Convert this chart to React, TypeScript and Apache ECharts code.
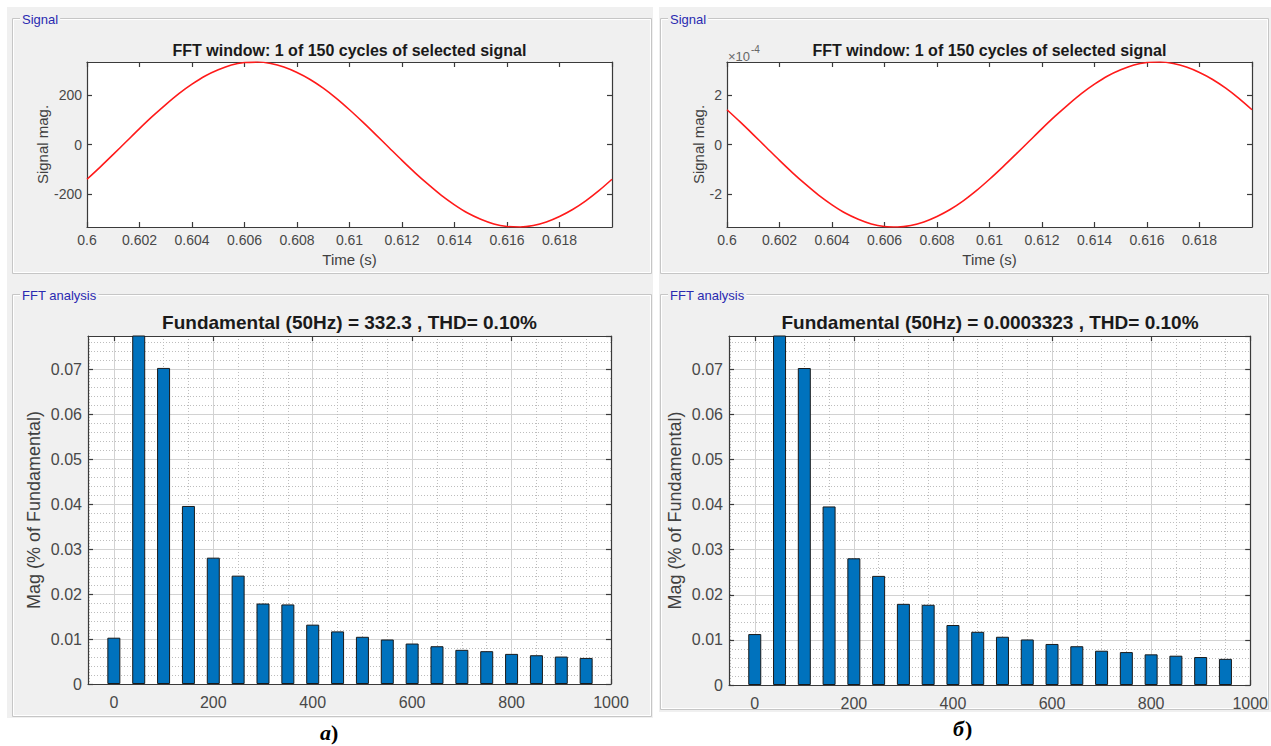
import React, { useEffect, useRef } from "react";
import * as echarts from "echarts";

// ---------- data ----------
// time samples (s), every 0.5 ms
const timeS = [
  0.6, 0.6005, 0.601, 0.6015, 0.602, 0.6025, 0.603, 0.6035, 0.604, 0.6045,
  0.605, 0.6055, 0.606, 0.6065, 0.607, 0.6075, 0.608, 0.6085, 0.609, 0.6095,
  0.61, 0.6105, 0.611, 0.6115, 0.612, 0.6125, 0.613, 0.6135, 0.614, 0.6145,
  0.615, 0.6155, 0.616, 0.6165, 0.617, 0.6175, 0.618, 0.6185, 0.619, 0.6195,
  0.62,
];
// panel a) signal magnitude
const signalA = [
  -140, -91, -40, 12, 64, 114, 161, 205, 243, 276, 301, 320, 330, 332, 326,
  312, 290, 262, 227, 186, 140, 91, 40, -12, -64, -114, -161, -205, -243,
  -276, -301, -320, -330, -332, -326, -312, -290, -262, -227, -186, -140,
];
// panel б) signal magnitude, in units of 1e-4
const signalB = [
  1.4, 0.91, 0.4, -0.12, -0.64, -1.14, -1.61, -2.05, -2.43, -2.76, -3.01,
  -3.2, -3.3, -3.32, -3.26, -3.12, -2.9, -2.62, -2.27, -1.86, -1.4, -0.91,
  -0.4, 0.12, 0.64, 1.14, 1.61, 2.05, 2.43, 2.76, 3.01, 3.2, 3.3, 3.32, 3.26,
  3.12, 2.9, 2.62, 2.27, 1.86, 1.4,
];
// harmonic frequencies (Hz)
const harmonicsHz = [
  0, 50, 100, 150, 200, 250, 300, 350, 400, 450, 500, 550, 600, 650, 700, 750,
  800, 850, 900, 950,
];
// Mag (% of Fundamental), 50 Hz = fundamental (100 %)
const fftA = [
  0.0103, 100, 0.0703, 0.0396, 0.0281, 0.0241, 0.0179, 0.0177, 0.0132, 0.0117,
  0.0105, 0.0099, 0.009, 0.0084, 0.0076, 0.0073, 0.0067, 0.0064, 0.0061, 0.0058,
];
const fftB = [
  0.0113, 100, 0.0703, 0.0396, 0.0281, 0.0242, 0.018, 0.0178, 0.0133, 0.0118,
  0.0107, 0.0101, 0.0091, 0.0086, 0.0076, 0.0073, 0.0068, 0.0065, 0.0062, 0.0058,
];
const fftXTicks = [0, 200, 400, 600, 800, 1000];
const signalATicks = [-200, 0, 200];
const signalBTicks = [-2, 0, 2];
const signalAMax = 332.3;
const signalBMax = 3.323;
const fftYMax = 0.0774;

const titleSignal = "FFT window: 1 of 150 cycles of selected signal";
const titleFftA = "Fundamental (50Hz) = 332.3 , THD= 0.10%";
const titleFftB = "Fundamental (50Hz) = 0.0003323 , THD= 0.10%";

// ---------- styles ----------
const FONT = "'Liberation Sans', Arial, Helvetica, sans-serif";
const SERIF = "'Liberation Serif', 'Times New Roman', serif";
const AXIS_COLOR = "#3a3a3a";
const LABEL_COLOR = "#484848";
const PANEL = "#f0f0f0";

const lineStyle = { color: AXIS_COLOR, width: 1.2 };

function signalAxes(gridIndex: number, yMax: number, yTicks: number[], nameGap: number) {
  const xBottom = {
    type: "value",
    gridIndex,
    position: "bottom",
    min: 0.6,
    max: 0.62,
    interval: 0.002,
    axisLine: { show: true, onZero: false, lineStyle },
    axisTick: { show: true, inside: true, length: 5, lineStyle },
    axisLabel: {
      show: true,
      margin: 6,
      color: LABEL_COLOR,
      fontSize: 14,
      fontFamily: FONT,
      showMaxLabel: false,
    },
    splitLine: { show: false },
    name: "Time (s)",
    nameLocation: "middle",
    nameGap: 25,
    nameTextStyle: { fontSize: 15, color: "#404040", fontFamily: FONT },
  };
  const xTop = {
    type: "value",
    gridIndex,
    position: "top",
    min: 0.6,
    max: 0.62,
    interval: 0.002,
    axisLine: { show: true, onZero: false, lineStyle },
    axisTick: { show: true, inside: true, length: 5, lineStyle },
    axisLabel: { show: false },
    splitLine: { show: false },
  };
  const yLeft = {
    type: "value",
    gridIndex,
    position: "left",
    min: -yMax,
    max: yMax,
    axisLine: { show: true, onZero: false, lineStyle },
    axisTick: { show: true, inside: true, length: 5, lineStyle, customValues: yTicks },
    axisLabel: {
      show: true,
      margin: 5,
      color: LABEL_COLOR,
      fontSize: 14,
      fontFamily: FONT,
      customValues: yTicks,
    },
    splitLine: { show: false },
    name: "Signal mag.",
    nameLocation: "middle",
    nameGap,
    nameTextStyle: { fontSize: 15, color: "#404040", fontFamily: FONT },
  };
  const yRight = {
    type: "value",
    gridIndex,
    position: "right",
    min: -yMax,
    max: yMax,
    axisLine: { show: true, onZero: false, lineStyle },
    axisTick: { show: true, inside: true, length: 5, lineStyle, customValues: yTicks },
    axisLabel: { show: false },
    splitLine: { show: false },
  };
  return { x: [xBottom, xTop], y: [yLeft, yRight] };
}

function fftAxes(gridIndex: number) {
  const xBottom = {
    type: "value",
    gridIndex,
    position: "bottom",
    min: -52,
    max: 1000,
    axisLine: { show: true, onZero: false, lineStyle },
    axisTick: { show: true, inside: true, length: 5, lineStyle, customValues: fftXTicks },
    axisLabel: {
      show: true,
      margin: 10,
      color: LABEL_COLOR,
      fontSize: 16,
      fontFamily: FONT,
      customValues: fftXTicks,
      formatter: (v: number) => (Math.abs(v % 200) < 1e-6 ? String(v) : ""),
    },
    splitLine: { show: true, lineStyle: { color: "#d2d2d2", width: 1 } },
    minorTick: { show: false, splitNumber: 4 },
    minorSplitLine: {
      show: true,
      lineStyle: { color: "#bdbdbd", width: 1, type: [1, 2] },
    },
  };
  const xTop = {
    type: "value",
    gridIndex,
    position: "top",
    min: -52,
    max: 1000,
    axisLine: { show: true, onZero: false, lineStyle },
    axisTick: { show: true, inside: true, length: 5, lineStyle, customValues: fftXTicks },
    axisLabel: { show: false },
    splitLine: { show: false },
  };
  const yLeft = {
    type: "value",
    gridIndex,
    position: "left",
    min: 0,
    max: fftYMax,
    interval: 0.01,
    axisLine: { show: true, onZero: false, lineStyle },
    axisTick: { show: true, inside: true, length: 5, lineStyle },
    axisLabel: {
      show: true,
      margin: 6,
      color: LABEL_COLOR,
      fontSize: 16,
      fontFamily: FONT,
      showMaxLabel: false,
    },
    splitLine: { show: true, lineStyle: { color: "#d2d2d2", width: 1 } },
    minorTick: { show: false, splitNumber: 5 },
    minorSplitLine: {
      show: true,
      lineStyle: { color: "#bdbdbd", width: 1, type: [1, 2] },
    },
    name: "Mag (% of Fundamental)",
    nameLocation: "middle",
    nameGap: 45,
    nameTextStyle: { fontSize: 18, color: "#404040", fontFamily: FONT },
  };
  const yRight = {
    type: "value",
    gridIndex,
    position: "right",
    min: 0,
    max: fftYMax,
    interval: 0.01,
    axisLine: { show: true, onZero: false, lineStyle },
    axisTick: { show: true, inside: true, length: 5, lineStyle },
    axisLabel: { show: false },
    splitLine: { show: false },
  };
  return { x: [xBottom, xTop], y: [yLeft, yRight] };
}

function bgRect(x: number, y: number, w: number, h: number, fill: string) {
  return { type: "rect", silent: true, z: -10, shape: { x, y, width: w, height: h }, style: { fill } };
}

function groupBox(x: number, y: number, w: number, h: number, label: string) {
  return [
    {
      type: "rect",
      silent: true,
      z: -9,
      shape: { x: x + 0.5, y: y + 0.5, width: w, height: h },
      style: { fill: "none", stroke: "#c6c6c6", lineWidth: 1 },
    },
    {
      type: "rect",
      silent: true,
      z: -9,
      shape: { x: x + 1.5, y: y + 1.5, width: w - 2, height: h - 2 },
      style: { fill: "none", stroke: "#ffffff", lineWidth: 1 },
    },
    {
      type: "text",
      silent: true,
      z: -8,
      x: x + 8,
      y: y + 1,
      style: {
        text: label,
        fill: "#2a2ab0",
        fontSize: 13,
        fontFamily: FONT,
        verticalAlign: "middle",
        align: "left",
        backgroundColor: PANEL,
        padding: [0, 2, 0, 2],
      },
    },
  ];
}

function titleText(x: number, y: number, text: string, size: number) {
  return {
    type: "text",
    silent: true,
    z: 10,
    x,
    y,
    style: {
      text,
      fill: "#1a1a1a",
      fontSize: size,
      fontWeight: "bold",
      fontFamily: FONT,
      align: "center",
      verticalAlign: "middle",
    },
  };
}

function plainText(x: number, y: number, text: string, size: number, extra: any = {}) {
  return {
    type: "text",
    silent: true,
    z: 10,
    x,
    y,
    style: {
      text,
      fill: "#000",
      fontSize: size,
      fontFamily: FONT,
      align: "left",
      verticalAlign: "middle",
      ...extra,
    },
  };
}

export default function App() {
  const ref = useRef<HTMLDivElement>(null);

  useEffect(() => {
    if (!ref.current) return;
    const chart = echarts.init(ref.current, undefined, { renderer: "svg" });

    const a = signalAxes(0, signalAMax, signalATicks, 36);
    const b = signalAxes(1, signalBMax, signalBTicks, 21);
    const c = fftAxes(2);
    const d = fftAxes(3);

    const grids = [
      { left: 87, top: 62, width: 525, height: 165 },
      { left: 727, top: 62, width: 525, height: 165 },
      { left: 88, top: 336, width: 523, height: 348 },
      { left: 729, top: 336, width: 522, height: 349 },
    ].map((g) => ({ ...g, show: true, backgroundColor: "#ffffff", borderWidth: 0, containLabel: false }));

    const graphic: any[] = [
      bgRect(7, 7, 646, 711, PANEL),
      bgRect(659, 7, 612, 705, PANEL),
      ...groupBox(12, 18, 639, 255, "Signal"),
      ...groupBox(12, 294, 639, 422, "FFT analysis"),
      ...groupBox(660, 18, 608, 255, "Signal"),
      ...groupBox(660, 294, 608, 415, "FFT analysis"),
      titleText(349.5, 50, titleSignal, 16),
      titleText(989.5, 50, titleSignal, 16),
      titleText(349.5, 322, titleFftA, 19),
      titleText(990, 322, titleFftB, 19),
      plainText(728, 56, "×10", 13, { fill: "#666666" }),
      plainText(751, 49, "-4", 10, { fill: "#666666" }),
      plainText(320, 732, "a", 22, { fontStyle: "italic", fontWeight: "bold", fontFamily: SERIF }),
      plainText(331, 732, ")", 22, { fontWeight: "bold", fontFamily: SERIF }),
      plainText(953, 728, "б", 22, { fontStyle: "italic", fontWeight: "bold", fontFamily: SERIF }),
      plainText(965, 728, ")", 22, { fontWeight: "bold", fontFamily: SERIF }),
    ];

    const barStyle = {
      color: "#0072BD",
      borderColor: "#1a1a1a",
      borderWidth: 1,
    };

    const sigLine = { color: "#ff1a1a", width: 1.6 };

    const option: any = {
      animation: false,
      backgroundColor: "#ffffff",
      grid: grids,
      xAxis: [...a.x, ...b.x, ...c.x, ...d.x],
      yAxis: [...a.y, ...b.y, ...c.y, ...d.y],
      graphic,
      series: [
        {
          type: "line",
          xAxisIndex: 0,
          yAxisIndex: 0,
          data: timeS.map((t, i) => [t, signalA[i]]),
          smooth: 0.3,
          showSymbol: false,
          symbol: "none",
          lineStyle: sigLine,
        },
        {
          type: "line",
          xAxisIndex: 2,
          yAxisIndex: 2,
          data: timeS.map((t, i) => [t, signalB[i]]),
          smooth: 0.3,
          showSymbol: false,
          symbol: "none",
          lineStyle: sigLine,
        },
        {
          type: "bar",
          xAxisIndex: 4,
          yAxisIndex: 4,
          barWidth: 13,
          clip: true,
          data: harmonicsHz.map((f, i) => [f, fftA[i]]),
          itemStyle: barStyle,
        },
        {
          type: "bar",
          xAxisIndex: 6,
          yAxisIndex: 6,
          barWidth: 13,
          clip: true,
          data: harmonicsHz.map((f, i) => [f, fftB[i]]),
          itemStyle: barStyle,
        },
      ],
    };

    chart.setOption(option);
    return () => chart.dispose();
  }, []);

  return (
    <div
      ref={ref}
      style={{ position: "absolute", left: 0, top: 0, width: 1271, height: 746, background: "#fff" }}
    />
  );
}
